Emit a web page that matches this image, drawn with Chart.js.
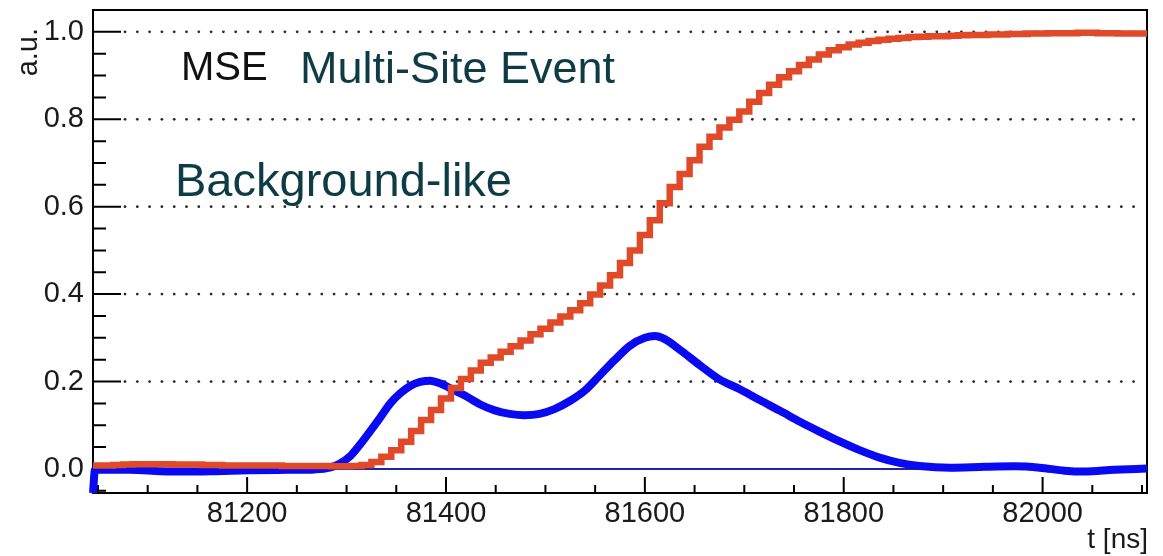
<!DOCTYPE html>
<html>
<head>
<meta charset="utf-8">
<script src="https://cdn.jsdelivr.net/npm/chart.js@4.4.1/dist/chart.umd.min.js"></script>
<style>
  html, body { margin: 0; padding: 0; background: #ffffff; }
  canvas { display: block; }
</style>
</head>
<body>
<canvas id="pulse" width="1163" height="556"></canvas>
<script>
// Time window of the waveform [ns]
const tStart = 81045;
const tEnd = 82105;

// Normalised charge pulse, histogram with 10 ns bins starting at tStart
const chargeBinWidth = 10;
const chargePulse = [
  0.007, 0.008, 0.008, 0.009, 0.010, 0.011, 0.011, 0.011, 0.011, 0.010,
  0.010, 0.010, 0.009, 0.009, 0.008, 0.008, 0.008, 0.008, 0.008, 0.008,
  0.007, 0.007, 0.007, 0.007, 0.007, 0.006, 0.006, 0.007, 0.009, 0.016,
  0.028, 0.043, 0.062, 0.087, 0.112, 0.135, 0.161, 0.185, 0.206, 0.225,
  0.243, 0.255, 0.268, 0.281, 0.294, 0.308, 0.321, 0.335, 0.349, 0.363,
  0.379, 0.399, 0.420, 0.443, 0.471, 0.500, 0.535, 0.569, 0.608, 0.645,
  0.675, 0.706, 0.737, 0.760, 0.781, 0.799, 0.818, 0.840, 0.860, 0.879,
  0.896, 0.910, 0.924, 0.937, 0.948, 0.958, 0.965, 0.971, 0.975, 0.979,
  0.982, 0.984, 0.986, 0.988, 0.989, 0.990, 0.990, 0.991, 0.992, 0.993,
  0.993, 0.994, 0.994, 0.995, 0.995, 0.996, 0.996, 0.997, 0.997, 0.997,
  0.998, 0.998, 0.997, 0.997, 0.996, 0.996
];

// Current pulse (smooth curve)
const currentTime = [
  81045, 81047, 81082, 81113, 81138, 81168, 81203, 81243, 81268, 81283,
  81293, 81304, 81314, 81324, 81334, 81344, 81354, 81364, 81374, 81384,
  81394, 81404, 81419, 81434, 81449, 81464, 81479, 81494, 81509, 81525,
  81540, 81555, 81570, 81585, 81600, 81610, 81620, 81635, 81655, 81675,
  81695, 81716, 81736, 81756, 81776, 81796, 81816, 81836, 81856, 81876,
  81907, 81942, 81972, 81997, 82022, 82042, 82072, 82105
];
const currentPulse = [
  -0.055, -0.002, -0.002, -0.005, -0.006, -0.005, -0.003, -0.002, -0.001, 0.003,
  0.012, 0.030, 0.057, 0.087, 0.118, 0.150, 0.173, 0.190, 0.199, 0.202,
  0.196, 0.185, 0.168, 0.148, 0.134, 0.126, 0.123, 0.126, 0.137, 0.156,
  0.180, 0.215, 0.250, 0.282, 0.300, 0.304, 0.297, 0.273, 0.238, 0.205,
  0.183, 0.157, 0.133, 0.108, 0.085, 0.063, 0.043, 0.026, 0.014, 0.007,
  0.003, 0.005, 0.006, 0.003, -0.004, -0.006, -0.002, 0.001
];

// Zero reference level
const zeroLevel = 0;

// Axis ticks and range
const xTickValues = [81200, 81400, 81600, 81800, 82000];
const yTickValues = [0.0, 0.2, 0.4, 0.6, 0.8, 1.0];
const yMin = -0.055;
const yMax = 1.05;

const FONT = "'Liberation Sans', Arial, Helvetica, sans-serif";

// Build the step outline from the bin contents (left edges, plus closing edge)
const chargePoints = chargePulse.map((v, k) => ({ x: tStart + k * chargeBinWidth, y: v }));
chargePoints.push({ x: tStart + chargePulse.length * chargeBinWidth, y: chargePulse[chargePulse.length - 1] });

const currentPoints = currentTime.map((t, i) => ({ x: t, y: currentPulse[i] }));
const zeroPoints = [{ x: tStart, y: zeroLevel }, { x: tEnd, y: zeroLevel }];

// Frame, inward ticks and dotted grid in the style of a ROOT canvas
const rootFrame = {
  id: 'rootFrame',
  beforeDatasetsDraw(chart) {
    const { ctx, chartArea: a, scales: { x, y } } = chart;
    ctx.save();

    // dotted horizontal grid at the labelled values above zero
    ctx.fillStyle = '#2a2a2a';
    yTickValues.forEach(v => {
      if (v === 0) return;
      const py = y.getPixelForValue(v);
      for (let px = a.left + 32; px < a.right - 2; px += 12.3) {
        ctx.beginPath();
        ctx.arc(px, py, 1.4, 0, Math.PI * 2);
        ctx.fill();
      }
    });

    ctx.strokeStyle = '#000000';
    ctx.lineWidth = 2;
    ctx.strokeRect(a.left, a.top, a.right - a.left, a.bottom - a.top);

    ctx.beginPath();
    // y ticks: major every 0.2, minor every 0.05
    for (let i = Math.ceil(yMin / 0.05); i * 0.05 <= yMax + 1e-9; i++) {
      const py = y.getPixelForValue(i * 0.05);
      const len = (i % 4 === 0) ? 28 : 13;
      ctx.moveTo(a.left, py);
      ctx.lineTo(a.left + len, py);
    }
    // x ticks: major every 200 ns, minor every 50 ns
    for (let t = Math.ceil(tStart / 50) * 50; t <= tEnd; t += 50) {
      const px = x.getPixelForValue(t);
      const len = (t % 200 === 0) ? 16 : 8;
      ctx.moveTo(px, a.bottom);
      ctx.lineTo(px, a.bottom - len);
    }
    ctx.stroke();
    ctx.restore();
  },
  afterDraw(chart) {
    const { ctx, chartArea: a } = chart;
    ctx.save();
    ctx.textBaseline = 'alphabetic';

    // axis titles
    ctx.fillStyle = '#1a1a1a';
    ctx.font = `28px ${FONT}`;
    ctx.textAlign = 'right';
    ctx.fillText('t [ns]', a.right + 1, 548);

    ctx.save();
    ctx.translate(37, 28);
    ctx.rotate(-Math.PI / 2);
    ctx.font = `29px ${FONT}`;
    ctx.textAlign = 'right';
    ctx.fillText('a.u.', 0, 0);
    ctx.restore();

    // annotations
    ctx.textAlign = 'left';
    ctx.fillStyle = '#111111';
    ctx.font = `40px ${FONT}`;
    ctx.fillText('MSE', 181, 80);

    ctx.fillStyle = '#0e3c46';
    ctx.font = `45px ${FONT}`;
    ctx.fillText('Multi-Site Event', 300, 83);

    ctx.font = `47px ${FONT}`;
    ctx.fillText('Background-like', 175, 196);
    ctx.restore();
  }
};

new Chart(document.getElementById('pulse'), {
  type: 'line',
  data: {
    datasets: [
      {
        data: chargePoints,
        stepped: 'after',
        borderColor: '#e04a28',
        borderWidth: 6.5,
        borderJoinStyle: 'miter',
        borderCapStyle: 'butt',
        pointRadius: 0,
        fill: false,
        order: 0
      },
      {
        data: currentPoints,
        borderColor: '#0a0af2',
        borderWidth: 8,
        cubicInterpolationMode: 'monotone',
        borderCapStyle: 'butt',
        pointRadius: 0,
        fill: false,
        clip: { left: 5, top: 0, right: 0, bottom: 0 },
        order: 1
      },
      {
        data: zeroPoints,
        borderColor: '#2222a8',
        borderWidth: 2,
        pointRadius: 0,
        fill: false,
        order: 2
      }
    ]
  },
  options: {
    responsive: false,
    animation: false,
    devicePixelRatio: 1,
    events: [],
    parsing: false,
    layout: { padding: { top: 10, right: 16, left: 0, bottom: 0 } },
    plugins: { legend: { display: false }, tooltip: { enabled: false } },
    scales: {
      x: {
        type: 'linear',
        min: tStart,
        max: tEnd,
        afterBuildTicks: s => { s.ticks = xTickValues.map(v => ({ value: v })); },
        afterFit: s => { s.height = 63; s.paddingLeft = 0; s.paddingRight = 0; },
        grid: { display: false, drawTicks: false },
        border: { display: false },
        ticks: {
          font: { size: 29, family: FONT },
          color: '#1a1a1a',
          padding: 4,
          maxRotation: 0,
          autoSkip: false,
          callback: v => String(v)
        }
      },
      y: {
        type: 'linear',
        min: yMin,
        max: yMax,
        afterBuildTicks: s => { s.ticks = yTickValues.map(v => ({ value: v })); },
        afterFit: s => { s.width = 93; s.paddingTop = 0; s.paddingBottom = 0; },
        grid: { display: false, drawTicks: false },
        border: { display: false },
        ticks: {
          font: { size: 29, family: FONT },
          color: '#1a1a1a',
          padding: 9,
          callback: v => v.toFixed(1)
        }
      }
    }
  },
  plugins: [rootFrame]
});
</script>
</body>
</html>
